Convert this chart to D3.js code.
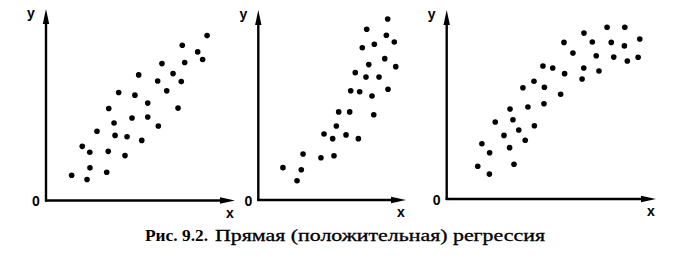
<!DOCTYPE html>
<html>
<head>
<meta charset="utf-8">
<script src="https://cdn.jsdelivr.net/npm/d3@7"></script>
<style>
body{margin:0;background:#fff;}
svg{display:block;}
</style>
</head>
<body>
<svg id="chart" width="693" height="276"></svg>
<script>
(function(){

//DATA (x, y in axis units 0..100)
var linearX = [15.0,24.0,25.7,21.2,25.6,35.5,36.4,29.8,40.4,39.8,36.7,42.5,46.2,47.4,50.3,52.0,54.2,56.0,59.5,59.5,65.7,65.3,67.8,70.6,74.3,77.2,79.1,81.1,79.7,88.7,91.6,94.2];
var linearY = [13.6,11.3,17.6,29.2,26.0,15.2,26.5,37.3,35.1,41.8,49.6,58.2,24.2,34.4,44.5,56.8,67.7,32.4,52.5,45.0,40.2,64.4,73.8,59.1,68.4,49.8,64.1,74.4,83.7,80.1,76.0,88.9];

var steepX = [16.8,26.4,29.3,30.5,42.7,51.6,44.8,50.7,53.2,54.8,59.8,62.3,68.2,63.0,69.1,66.1,73.4,75.3,70.9,73.9,79.1,77.5,78.7,82.3,86.2,88.4,87.3,88.2,92.7,93.7];
var steepY = [17.3,10.3,16.2,24.6,22.6,23.7,35.3,32.8,39.6,47.1,34.8,47.1,32.8,58.4,57.9,68.1,65.8,72.4,81.4,91.3,83.3,55.6,45.6,65.8,75.6,59.2,88.1,96.8,84.5,71.3];

var curveX = [14.9,20.5,20.6,16.9,23.3,27.5,30.2,32.3,30.4,31.8,34.6,37.7,36.6,39.0,42.1,41.9,46.9,46.7,46.2,50.9,54.7,56.6,56.3,60.6,65.0,65.8,65.9,69.9,71.8,73.1,77.0,79.0,80.2,85.5,85.3,86.7,91.9,92.7];
var curveY = [17.6,13.4,24.9,29.7,41.4,34.2,27.6,18.7,48.4,42.6,37.1,31.6,59.8,49.5,39.4,63.3,60.1,51.2,71.5,70.4,56.3,67.4,84.2,78.5,64.5,70.4,89.2,84.4,77.0,68.8,92.3,84.2,76.3,92.3,82.3,74.2,76.2,86.0];

var captionBold = "Рис. 9.2.";
var captionText = "Прямая (положительная) регрессия";

var svg = d3.select("#chart");

//PANEL
function panel(xs, ys, left, right, bottom, top, axisRight, axisTop){
	var x = d3.scaleLinear().domain([0, 100]).range([left, right]),
	y = d3.scaleLinear().domain([0, 100]).range([bottom, top]);
	var g = svg.append("g");
	var ox = x(0), oy = y(0);

	//axes
	g.append("line")
		.attr("x1", ox).attr("y1", oy + 1)
		.attr("x2", ox).attr("y2", axisTop + 8)
		.attr("stroke", "#000").attr("stroke-width", 2.4);
	g.append("line")
		.attr("x1", ox - 1).attr("y1", oy)
		.attr("x2", axisRight - 8).attr("y2", oy)
		.attr("stroke", "#000").attr("stroke-width", 2.4);
	g.append("path")
		.attr("d", `M${ox},${axisTop} L${ox - 3.2},${axisTop + 15} L${ox + 3.2},${axisTop + 15} Z`)
		.attr("fill", "#000");
	g.append("path")
		.attr("d", `M${axisRight},${oy} L${axisRight - 15},${oy - 3.2} L${axisRight - 15},${oy + 3.2} Z`)
		.attr("fill", "#000");

	//labels
	g.append("text").text("y")
		.attr("x", ox - 15).attr("y", axisTop + 9)
		.attr("font-family", "Liberation Sans").attr("font-size", 14).attr("font-weight", "bold")
		.attr("text-anchor", "middle");
	g.append("text").text("0")
		.attr("x", ox - 10).attr("y", oy + 5.5)
		.attr("font-family", "Liberation Sans").attr("font-size", 14).attr("font-weight", "bold")
		.attr("text-anchor", "middle");
	g.append("text").text("x")
		.attr("x", axisRight - 5).attr("y", oy + 17)
		.attr("font-family", "Liberation Sans").attr("font-size", 14).attr("font-weight", "bold")
		.attr("text-anchor", "middle");

	//dots
	g.selectAll("circle")
		.data(d3.range(xs.length))
		.enter()
		.append("circle")
		.attr("cx", function(i){ return x(xs[i]); })
		.attr("cy", function(i){ return y(ys[i]); })
		.attr("r", 2.8)
		.attr("fill", "#000");
};

panel(linearX, linearY, 46, 217, 200.5, 15, 235, 9);
panel(steepX, steepY, 258.3, 405, 200, 13, 406, 10);
panel(curveX, curveY, 446.7, 655, 199, 13, 656, 10);

//CAPTION
svg.append("text").text(captionBold)
	.attr("x", 145).attr("y", 241)
	.attr("font-family", "Liberation Serif").attr("font-size", 16).attr("font-weight", "bold")
	.attr("textLength", 63).attr("lengthAdjust", "spacingAndGlyphs");
svg.append("text").text(captionText)
	.attr("x", 215).attr("y", 241)
	.attr("font-family", "Liberation Serif").attr("font-size", 16)
	.attr("stroke", "#000").attr("stroke-width", 0.3)
	.attr("textLength", 330).attr("lengthAdjust", "spacingAndGlyphs");

})()
</script>
</body>
</html>
